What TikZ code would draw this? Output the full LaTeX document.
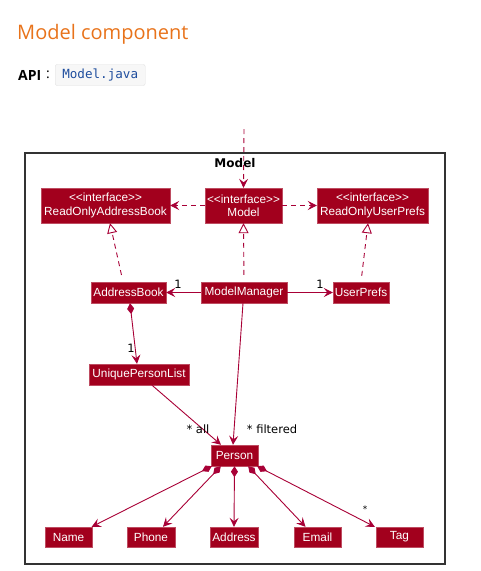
\documentclass[tikz,border=0pt]{standalone}
\usepackage{fontspec}
\setmainfont{Liberation Sans}
\newfontfamily\headfont{Open Sans}
\newfontfamily\lblfont{DejaVu Sans}
\newfontfamily\codefont{DejaVu Sans Mono}
\usetikzlibrary{arrows.meta}
\definecolor{umlred}{HTML}{A80036}
\definecolor{boxred}{HTML}{A2001D}
\definecolor{headorange}{HTML}{E8731B}
\definecolor{codeblue}{HTML}{1F4E9E}
\definecolor{framegray}{HTML}{333333}
\newcommand{\stereo}{<{}<interface>{}>}
\tikzset{
  cls/.style={fill=boxred, draw=boxred!70!white, line width=0.4pt, text=white, inner sep=0pt,
    font=\fontsize{11.8}{13.2}\selectfont, align=center},
  iface/.style={cls, minimum height=35pt},
  plain/.style={cls, minimum height=21pt},
  edge/.style={draw=umlred, line width=0.9pt},
  assoc/.style={edge, -{Stealth[length=9pt,width=9pt,inset=3.5pt]}},
  dep/.style={assoc, dash pattern=on 5pt off 4pt},
  real/.style={edge, dash pattern=on 5pt off 4pt, -{Triangle[open,length=10pt,width=10pt]}},
  comp/.style={edge, {Diamond[length=11pt,width=7pt]}-{Stealth[length=9pt,width=9pt,inset=3.5pt]}},
  lbl/.style={font=\lblfont\fontsize{11.5}{13}\selectfont, text=black, inner sep=0pt},
}
\begin{document}
\begin{tikzpicture}[x=1pt,y=-1pt]
\useasboundingbox (0,0) rectangle (481,571);
% header
\node[anchor=west, inner sep=0pt, text=headorange, font=\headfont\fontsize{20}{24}\selectfont] (title) at (17,34) {Model component};
\node[anchor=west, inner sep=0pt, font=\headfont\bfseries\fontsize{14}{16}\selectfont] (api) at (18,75) {API};
\node[anchor=west, inner sep=0pt, font=\headfont\fontsize{14}{16}\selectfont] (colon) at (46,75) {:};
\node[anchor=west, fill=black!3, draw=black!12, rounded corners=2pt, minimum width=90pt, minimum height=21pt, inner sep=0pt,
  text=codeblue, font=\codefont\fontsize{12.6}{14}\selectfont] (code) at (55,75) {Model.java};
% frame
\draw[framegray, line width=1.2pt] (25,153) rectangle (445,564);
\node[font=\lblfont\bfseries\fontsize{12}{14}\selectfont, inner sep=0pt] (frametitle) at (235,163) {Model};
% nodes
\node[iface, minimum width=129pt] (roab) at (105.5,205.5) {\stereo\\ReadOnlyAddressBook};
\node[iface, minimum width=77pt] (modeli) at (243.5,205.5) {\stereo\\Model};
\node[iface, minimum width=111pt] (roup) at (372.5,205.5) {\stereo\\ReadOnlyUserPrefs};
\node[plain, minimum width=75pt] (ab) at (128.5,292.5) {AddressBook};
\node[plain, minimum width=86pt] (mm) at (244,292.5) {ModelManager};
\node[plain, minimum width=56pt] (up) at (361,292.5) {UserPrefs};
\node[plain, minimum width=100pt] (upl) at (139,374.5) {UniquePersonList};
\node[plain, minimum width=47pt] (person) at (234.5,455.5) {Person};
\node[plain, minimum width=47pt, minimum height=20pt] (name) at (68.5,537) {Name};
\node[plain, minimum width=48pt, minimum height=20pt] (phone) at (151,537) {Phone};
\node[plain, minimum width=48pt, minimum height=20pt] (address) at (234,537) {Address};
\node[plain, minimum width=47pt, minimum height=20pt] (email) at (317.5,537) {Email};
\node[plain, minimum width=47pt, minimum height=20pt] (tag) at (399.5,537) {Tag};
% edges
\coordinate (ext) at (244,129);
\draw[dep] (ext) -- (modeli.north);
\draw[dep] (modeli.west) -- (roab.east);
\draw[dep] (modeli.east) -- (roup.west);
\draw[real, shorten <=7pt] ([xshift=-5.5pt]ab.north) -- ([xshift=4.5pt]roab.south);
\draw[real, shorten <=7pt] (mm.north) -- (modeli.south);
\draw[real, shorten <=6pt] (up.north) -- ([xshift=-4.5pt]roup.south);
\draw[assoc] (mm.west) -- (ab.east);
\draw[assoc] (mm.east) -- (up.west);
\draw[comp] ([xshift=1.5pt]ab.south) -- ([xshift=-2pt]upl.north);
\draw[assoc] ([xshift=13pt]upl.south) -- ([xshift=-13.5pt]person.north);
\draw[assoc] ([xshift=-1pt]mm.south) -- ([xshift=-1.5pt]person.north);
\draw[comp] ([xshift=1pt]person.south west) -- ([xshift=-0.5pt]name.north east);
\draw[comp] ([xshift=10pt]person.south west) -- ([xshift=12pt]phone.north);
\draw[comp] (person.south) -- (address.north);
\draw[comp] ([xshift=-10pt]person.south east) -- ([xshift=-12pt]email.north);
\draw[comp] ([xshift=-1pt]person.south east) -- ([xshift=-1pt]tag.north west);
% labels
\node[lbl] (l1) at (178,284) {1};
\node[lbl] (l2) at (320,284) {1};
\node[lbl] (l3) at (131,348) {1};
\node[lbl] (lall) at (198,429) {* all};
\node[lbl] (lfil) at (272,429) {* filtered};
\node[lbl, font=\lblfont\fontsize{9}{10}\selectfont] (lstar) at (365,509) {*};
\end{tikzpicture}
\end{document}
